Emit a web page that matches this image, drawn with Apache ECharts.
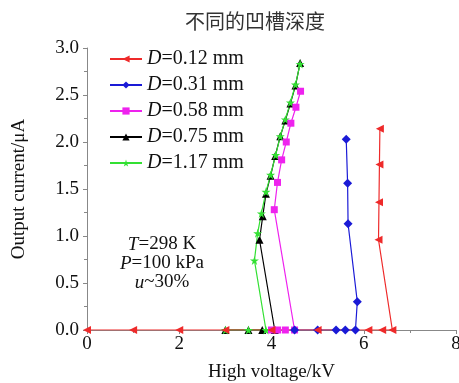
<!DOCTYPE html>
<html><head><meta charset="utf-8">
<script src="https://cdn.jsdelivr.net/npm/echarts@6/dist/echarts.min.js"></script>
<style>html,body{margin:0;padding:0;background:#fff}#c{width:459px;height:383px}</style>
</head><body><div id="c"></div>
<script>
// ---- data ----
const seriesNames = ['D=0.12 mm','D=0.31 mm','D=0.58 mm','D=0.75 mm','D=1.17 mm'];
const d012X = [0,1,2,3,4,5,6.1,6.4,6.62,6.32,6.33,6.34,6.35];
const d012Y = [0,0,0,0,0,0,0,0,0,0.96,1.36,1.76,2.14];
const d031X = [4.5,5.0,5.4,5.6,5.82,5.86,5.66,5.65,5.62];
const d031Y = [0,0,0,0,0,0.30,1.13,1.56,2.03];
const d058X = [4.0,4.13,4.3,4.5,4.06,4.13,4.22,4.32,4.42,4.53,4.63];
const d058Y = [0,0,0,0,1.28,1.57,1.81,2.00,2.20,2.37,2.54];
const d075X = [3.0,3.5,3.8,4.07,3.74,3.81,3.88,3.98,4.08,4.19,4.30,4.41,4.52,4.62];
const d075Y = [0,0,0,0,0.96,1.21,1.45,1.64,1.85,2.06,2.23,2.41,2.60,2.84];
const d117X = [3.0,3.5,3.88,3.63,3.70,3.78,3.88,3.98,4.09,4.19,4.30,4.41,4.52,4.62];
const d117Y = [0,0,0,0.74,1.03,1.24,1.47,1.65,1.86,2.06,2.24,2.42,2.61,2.83];
const xTicks = [0,2,4,6,8];
const yTicks = [0.0,0.5,1.0,1.5,2.0,2.5,3.0];

const zip = (a,b) => a.map((v,i)=>[v,b[i]]);
const serif = '"Liberation Serif", "DejaVu Serif", serif';
const star = 'path://M50,0 L61,35 L98,35 L68,57 L79,91 L50,70 L21,91 L32,57 L2,35 L39,35 Z';
const cfg = [
  {name: seriesNames[3], data: zip(d075X,d075Y), color:'#000000', symbol:'triangle', size:8},
  {name: seriesNames[4], data: zip(d117X,d117Y), color:'#33e033', symbol:star, size:9},
  {name: seriesNames[2], data: zip(d058X,d058Y), color:'#ee22ee', symbol:'rect', size:7},
  {name: seriesNames[1], data: zip(d031X,d031Y), color:'#1a1ad6', symbol:'diamond', size:9},
  {name: seriesNames[0], data: zip(d012X,d012Y), color:'#ee2a2a', symbol:'path://M0,50 L100,0 L100,100 Z', size:8}
];
const chart = echarts.init(document.getElementById('c'));
chart.setOption({
  animation:false,
  title:{text:'不同的凹槽深度', left:250, textAlign:'center', top:6,
    textStyle:{fontFamily:'"Noto Sans CJK SC"', fontWeight:'normal', fontSize:20, color:'#333'}},
  grid:{left:87, right:3, top:48, bottom:53, containLabel:false, outerBoundsMode:'none'},
  legend:{
    data: seriesNames, orient:'vertical', left:104, top:44, itemWidth:32, itemHeight:9, itemGap:6,
    formatter: n => '{i|D}{n|' + n.slice(1) + '}',
    textStyle:{fontFamily:serif, fontSize:20, color:'#111',
      rich:{i:{fontStyle:'italic', fontFamily:serif, fontSize:20, color:'#111'},
            n:{fontFamily:serif, fontSize:20, color:'#111'}}}
  },
  xAxis:{type:'value', min:0, max:8, interval:2,
    name:'High voltage/kV', nameLocation:'middle', nameGap:33,
    nameTextStyle:{fontFamily:serif, fontSize:19, color:'#111'},
    axisLine:{lineStyle:{color:'#888'}}, axisTick:{length:4, lineStyle:{color:'#888'}},
    minorTick:{show:true, splitNumber:2, length:3, lineStyle:{color:'#888'}},
    splitLine:{show:false},
    axisLabel:{fontFamily:serif, fontSize:19, color:'#111', margin:5,
      formatter: v => xTicks.includes(v) ? String(v) : ''}},
  yAxis:{type:'value', min:0, max:3, interval:0.5,
    name:'Output current/μA', nameLocation:'middle', nameGap:58,
    nameTextStyle:{fontFamily:serif, fontSize:19, color:'#111'},
    axisLine:{show:true, lineStyle:{color:'#888'}}, axisTick:{show:true, length:4, lineStyle:{color:'#888'}},
    minorTick:{show:true, splitNumber:2, length:3, lineStyle:{color:'#888'}},
    splitLine:{show:false},
    axisLabel:{fontFamily:serif, fontSize:19, color:'#111', margin:8,
      formatter: v => yTicks.includes(v) ? v.toFixed(1) : ''}},
  graphic:[{type:'text', x:162, y:235, style:{
    text:'{i|T}{n|=298 K}\n{i|P}{n|=100 kPa}\n{i|u}{n|~30%}', align:'center', verticalAlign:'top',
    rich:{i:{fontStyle:'italic', fontFamily:serif, fontSize:19, fill:'#111', lineHeight:19},
          n:{fontFamily:serif, fontSize:19, fill:'#111', lineHeight:19}}}}],
  series: cfg.map(c => ({
    type:'line', name:c.name, data:c.data, symbol:c.symbol, symbolSize:c.size,
    showAllSymbol:true, color:c.color, lineStyle:{width:1.2, color:c.color},
    itemStyle:{color:c.color}
  }))
});
</script></body></html>
